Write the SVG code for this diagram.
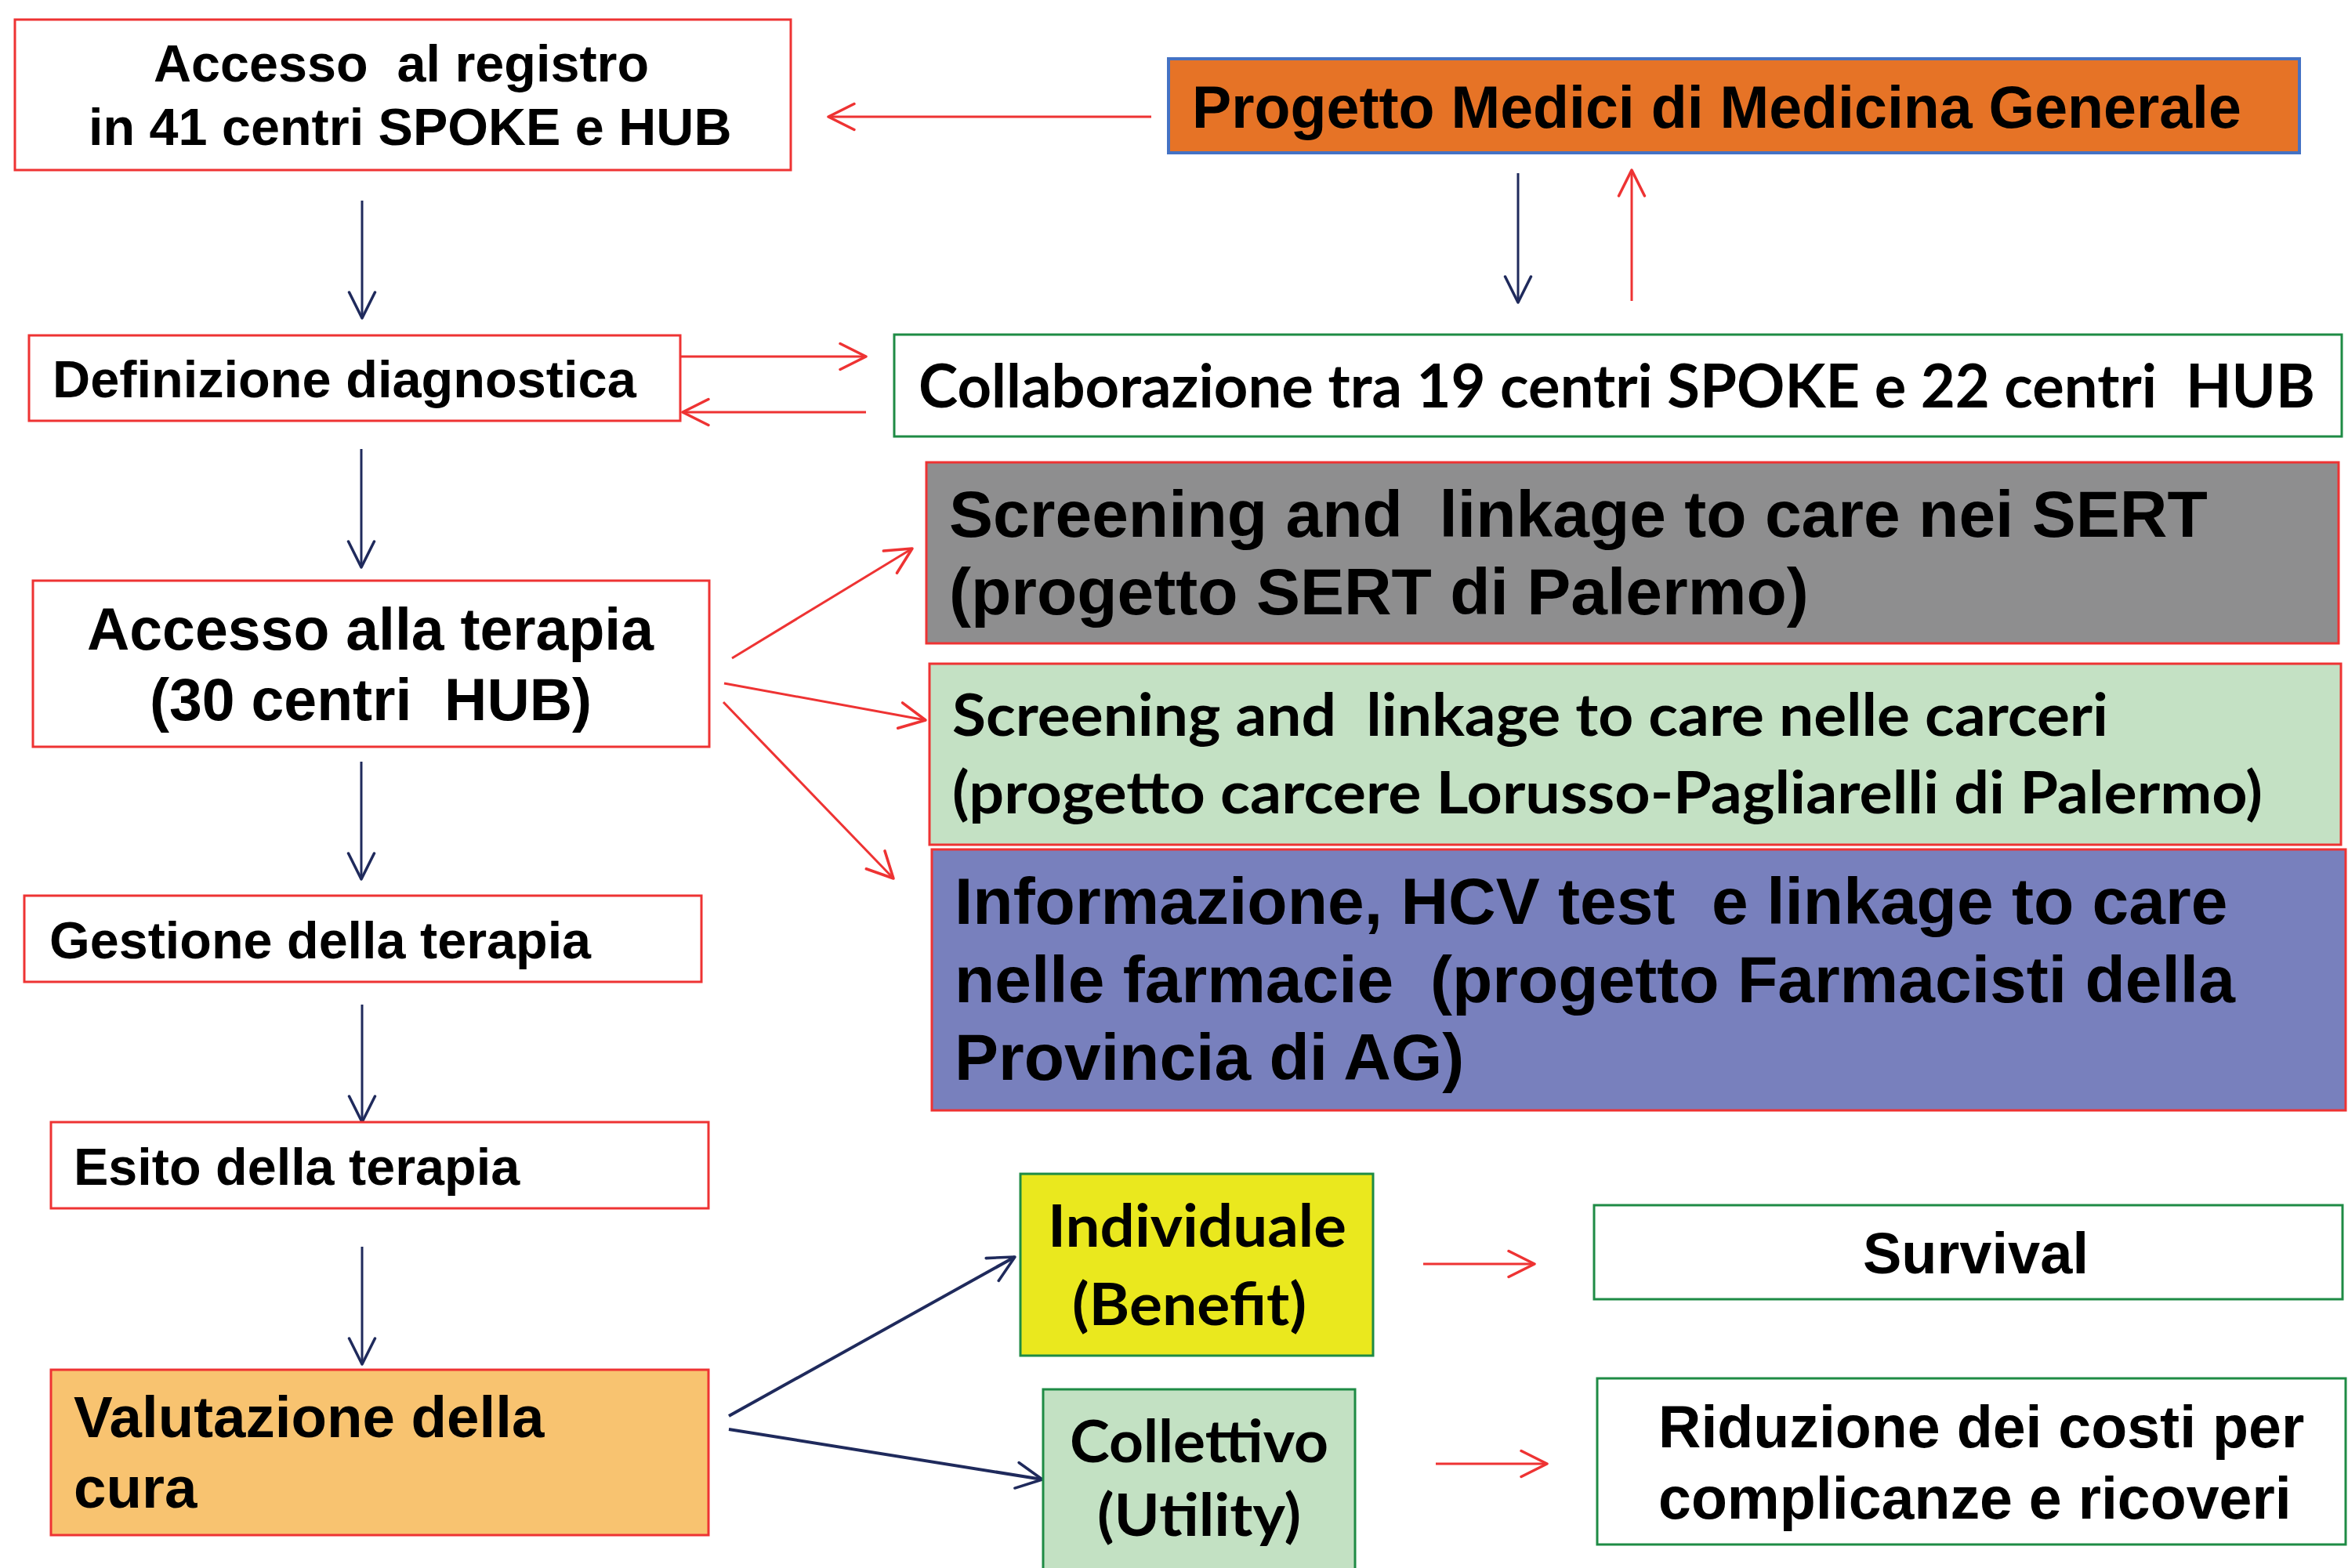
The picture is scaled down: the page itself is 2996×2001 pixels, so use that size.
<svg xmlns="http://www.w3.org/2000/svg" width="2996" height="2001" viewBox="0 0 2996 2001">
<style>
.box{stroke-width:3}
.rb{stroke:#ee3333}
.gb{stroke:#1e8b45}
.t{font-family:"Liberation Sans",Arial,sans-serif;font-weight:bold;fill:#000;white-space:pre}
.c{font-family:Lato,"Open Sans",sans-serif;font-weight:bold;fill:#000;white-space:pre}
.red{stroke:#ee3333;stroke-width:3;fill:none;marker-end:url(#ar)}
.navy{stroke:#1f2a5c;stroke-width:3;fill:none;marker-end:url(#an)}
</style>
<defs>
<marker id="ar" markerUnits="userSpaceOnUse" markerWidth="40" markerHeight="40" refX="28" refY="14" orient="auto" viewBox="-2 -2 34 32">
<path d="M0,0 L28,14 L0,28" fill="none" stroke="#ee3333" stroke-width="3" stroke-linejoin="round" stroke-linecap="round"/>
</marker>
<marker id="an" markerUnits="userSpaceOnUse" markerWidth="40" markerHeight="40" refX="28" refY="14" orient="auto" viewBox="-2 -2 34 32">
<path d="M0,0 L28,14 L0,28" fill="none" stroke="#1f2a5c" stroke-width="3" stroke-linejoin="round" stroke-linecap="round"/>
</marker>
</defs>
<rect width="2996" height="2001" fill="#ffffff"/>

<g id="connectors">
<line class="red" x1="1469" y1="149" x2="1057" y2="149"/>
<line class="red" x1="868" y1="455" x2="1105" y2="455"/>
<line class="red" x1="1105" y1="526" x2="871" y2="526"/>
<line class="navy" x1="462" y1="256" x2="462" y2="406"/>
<line class="navy" x1="461" y1="573" x2="461" y2="724"/>
<line class="navy" x1="461" y1="972" x2="461" y2="1122"/>
<line class="navy" x1="462" y1="1282" x2="462" y2="1432"/>
<line class="navy" x1="462" y1="1591" x2="462" y2="1741"/>
<line class="navy" x1="1937" y1="221" x2="1937" y2="386"/>
<line class="red" x1="2082" y1="384" x2="2082" y2="217"/>
<line class="red" x1="934" y1="840" x2="1164" y2="700"/>
<line class="red" x1="924" y1="872" x2="1181" y2="919"/>
<line class="red" x1="923" y1="896" x2="1140" y2="1121"/>
<line class="navy" x1="930" y1="1807" x2="1295" y2="1604" style="stroke-width:4"/>
<line class="navy" x1="930" y1="1824" x2="1330" y2="1888" style="stroke-width:4"/>
<line class="red" x1="1816" y1="1613" x2="1958" y2="1613"/>
<line class="red" x1="1832" y1="1868" x2="1974" y2="1868"/>
</g>

<g id="n-registro">
<rect class="box rb" x="19" y="25" width="990" height="192" fill="#fff"/>
<text class="t" font-size="66.5" x="196" y="104" xml:space="preserve">Accesso  al registro</text>
<text class="t" font-size="66.5" x="113" y="185">in 41 centri SPOKE e HUB</text>
</g>

<g id="n-progetto">
<rect x="1491" y="75" width="1443" height="120" fill="#e67326" stroke="#4472c4" stroke-width="4"/>
<text class="t" font-size="75.3" x="1521" y="163">Progetto Medici di Medicina Generale</text>
</g>

<g id="n-definizione">
<rect class="box rb" x="37" y="428" width="831" height="109" fill="#fff"/>
<text class="t" font-size="66.7" x="67" y="507">Definizione diagnostica</text>
</g>

<g id="n-collaborazione">
<rect class="box gb" x="1141" y="427" width="1847" height="130" fill="#fff"/>
<text class="c" font-size="77" x="1172" y="520" textLength="1782" lengthAdjust="spacingAndGlyphs" xml:space="preserve">Collaborazione tra 19 centri SPOKE e 22 centri  HUB</text>
</g>

<g id="n-terapia">
<rect class="box rb" x="42" y="741" width="863" height="212" fill="#fff"/>
<text class="t" font-size="75.2" x="111" y="829">Accesso alla terapia</text>
<text class="t" font-size="75.2" x="191" y="919" xml:space="preserve">(30 centri  HUB)</text>
</g>

<g id="n-sert">
<rect class="box rb" x="1182" y="590" width="1802" height="231" fill="#8e8e8f"/>
<text class="t" font-size="84" x="1211" y="685" xml:space="preserve">Screening and  linkage to care nei SERT</text>
<text class="t" font-size="84" x="1211" y="784">(progetto SERT di Palermo)</text>
</g>

<g id="n-carceri">
<rect class="box rb" x="1186" y="847" width="1801" height="231" fill="#c4e1c4"/>
<text class="c" font-size="74" x="1215" y="939" textLength="1475" lengthAdjust="spacingAndGlyphs" xml:space="preserve">Screening and  linkage to care nelle carceri</text>
<text class="c" font-size="74" x="1215" y="1038" textLength="1672" lengthAdjust="spacingAndGlyphs">(progetto carcere Lorusso-Pagliarelli di Palermo)</text>
</g>

<g id="n-farmacie">
<rect class="box rb" x="1189" y="1084" width="1804" height="333" fill="#7880bd"/>
<text class="t" font-size="84" x="1218" y="1179" xml:space="preserve">Informazione, HCV test  e linkage to care</text>
<text class="t" font-size="84" x="1218" y="1279" xml:space="preserve">nelle farmacie  (progetto Farmacisti della</text>
<text class="t" font-size="84" x="1218" y="1378">Provincia di AG)</text>
</g>

<g id="n-gestione">
<rect class="box rb" x="31" y="1143" width="864" height="110" fill="#fff"/>
<text class="t" font-size="66.5" x="63" y="1223">Gestione della terapia</text>
</g>

<g id="n-esito">
<rect class="box rb" x="65" y="1432" width="839" height="110" fill="#fff"/>
<text class="t" font-size="66.5" x="94" y="1512">Esito della terapia</text>
</g>

<g id="n-valutazione">
<rect class="box rb" x="65" y="1748" width="839" height="211" fill="#f8c370"/>
<text class="t" font-size="74.5" x="94" y="1834">Valutazione della</text>
<text class="t" font-size="74.5" x="94" y="1924">cura</text>
</g>

<g id="n-individuale">
<rect class="box gb" x="1302" y="1498" width="450" height="232" fill="#eae81e"/>
<text class="c" font-size="75" x="1337" y="1591" textLength="381" lengthAdjust="spacingAndGlyphs">Individuale</text>
<text class="c" font-size="75" x="1368" y="1691" textLength="299" lengthAdjust="spacingAndGlyphs">(Benefit)</text>
</g>

<g id="n-collettivo">
<rect class="box gb" x="1331" y="1773" width="398" height="240" fill="#c3e1c3"/>
<text class="c" font-size="75" x="1365" y="1866" textLength="330" lengthAdjust="spacingAndGlyphs">Collettivo</text>
<text class="c" font-size="75" x="1400" y="1960" textLength="260" lengthAdjust="spacingAndGlyphs">(Utility)</text>
</g>

<g id="n-survival">
<rect class="box gb" x="2034" y="1538" width="955" height="120" fill="#fff"/>
<text class="t" font-size="74" x="2377" y="1625">Survival</text>
</g>

<g id="n-riduzione">
<rect class="box gb" x="2038" y="1759" width="955" height="212" fill="#fff"/>
<text class="t" font-size="75.3" x="2116" y="1847">Riduzione dei costi per</text>
<text class="t" font-size="75.3" x="2116" y="1938">complicanze e ricoveri</text>
</g>
</svg>
